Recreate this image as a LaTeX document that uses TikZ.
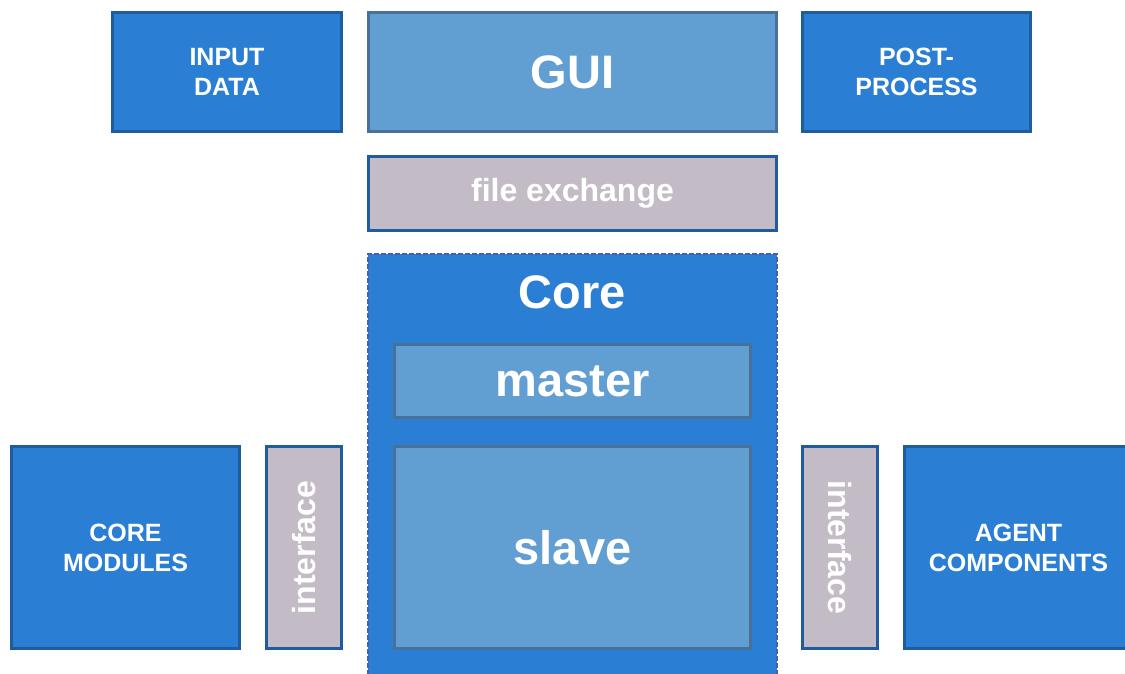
\documentclass[tikz,border=0pt]{standalone}
\usepackage{fontspec}
\setmainfont{Liberation Sans}
\definecolor{bfill}{RGB}{42,127,213}
\definecolor{bborder}{RGB}{30,92,158}
\definecolor{lfill}{RGB}{97,158,210}
\definecolor{lborder}{RGB}{72,112,152}
\definecolor{gfill}{RGB}{195,188,199}
\definecolor{coreborder}{RGB}{74,93,176}
\tikzset{
  base/.style={line width=3pt, inner sep=0pt, text=white, align=center, font=\bfseries\fontsize{25}{30}\selectfont},
  bluebox/.style={base, draw=bborder, fill=bfill},
  lightbox/.style={base, draw=lborder, fill=lfill},
  graybox/.style={base, draw=bborder, fill=gfill},
  corebox/.style={line width=2.5pt, draw=coreborder, fill=bfill, dash pattern=on 5pt off 2pt, inner sep=0pt},
  bigtext/.style={font=\bfseries\fontsize{47}{56}\selectfont},
  midtext/.style={font=\bfseries\fontsize{32}{38}\selectfont},
}
\begin{document}
\begin{tikzpicture}[x=1pt,y=-1pt]
\useasboundingbox (0,0) rectangle (1125,673);
\clip (0,0) rectangle (1125,673);
\fill[white] (0,0) rectangle (1125,673);
% top row
\node[bluebox, minimum width=229pt, minimum height=119pt] (input) at (227,72) {INPUT\\DATA};
\node[lightbox, bigtext, minimum width=408pt, minimum height=119pt] (gui) at (572.5,72) {GUI};
\node[bluebox, minimum width=228pt, minimum height=119pt] (post) at (916.5,72) {POST-\\PROCESS};
% file exchange
\node[graybox, midtext, minimum width=408pt, minimum height=74pt] (fx) at (572.5,193.5) {file exchange};
% core
\node[corebox, minimum width=409pt, minimum height=432pt] (core) at (572.5,470) {};
\node[text=white, bigtext, inner sep=0pt] (corelabel) at (572.5,292) {Core};
\node[lightbox, bigtext, minimum width=356pt, minimum height=73pt] (master) at (572.5,381) {master};
\node[lightbox, bigtext, minimum width=356pt, minimum height=202pt] (slave) at (572.5,547.5) {slave};
% bottom row
\node[bluebox, minimum width=228pt, minimum height=202pt] (coremod) at (125.5,547.5) {CORE\\MODULES};
\node[graybox, minimum width=75pt, minimum height=202pt] (ifl) at (304,547.5) {};
\node[text=white, midtext, rotate=90, inner sep=0pt] (ifltext) at (ifl.center) {interface};
\node[graybox, minimum width=75pt, minimum height=202pt] (ifr) at (840,547.5) {};
\node[text=white, midtext, rotate=-90, inner sep=0pt] (ifrtext) at (ifr.center) {interface};
\node[bluebox, minimum width=228pt, minimum height=202pt] (agent) at (1018.5,547.5) {AGENT\\COMPONENTS};
\end{tikzpicture}
\end{document}
